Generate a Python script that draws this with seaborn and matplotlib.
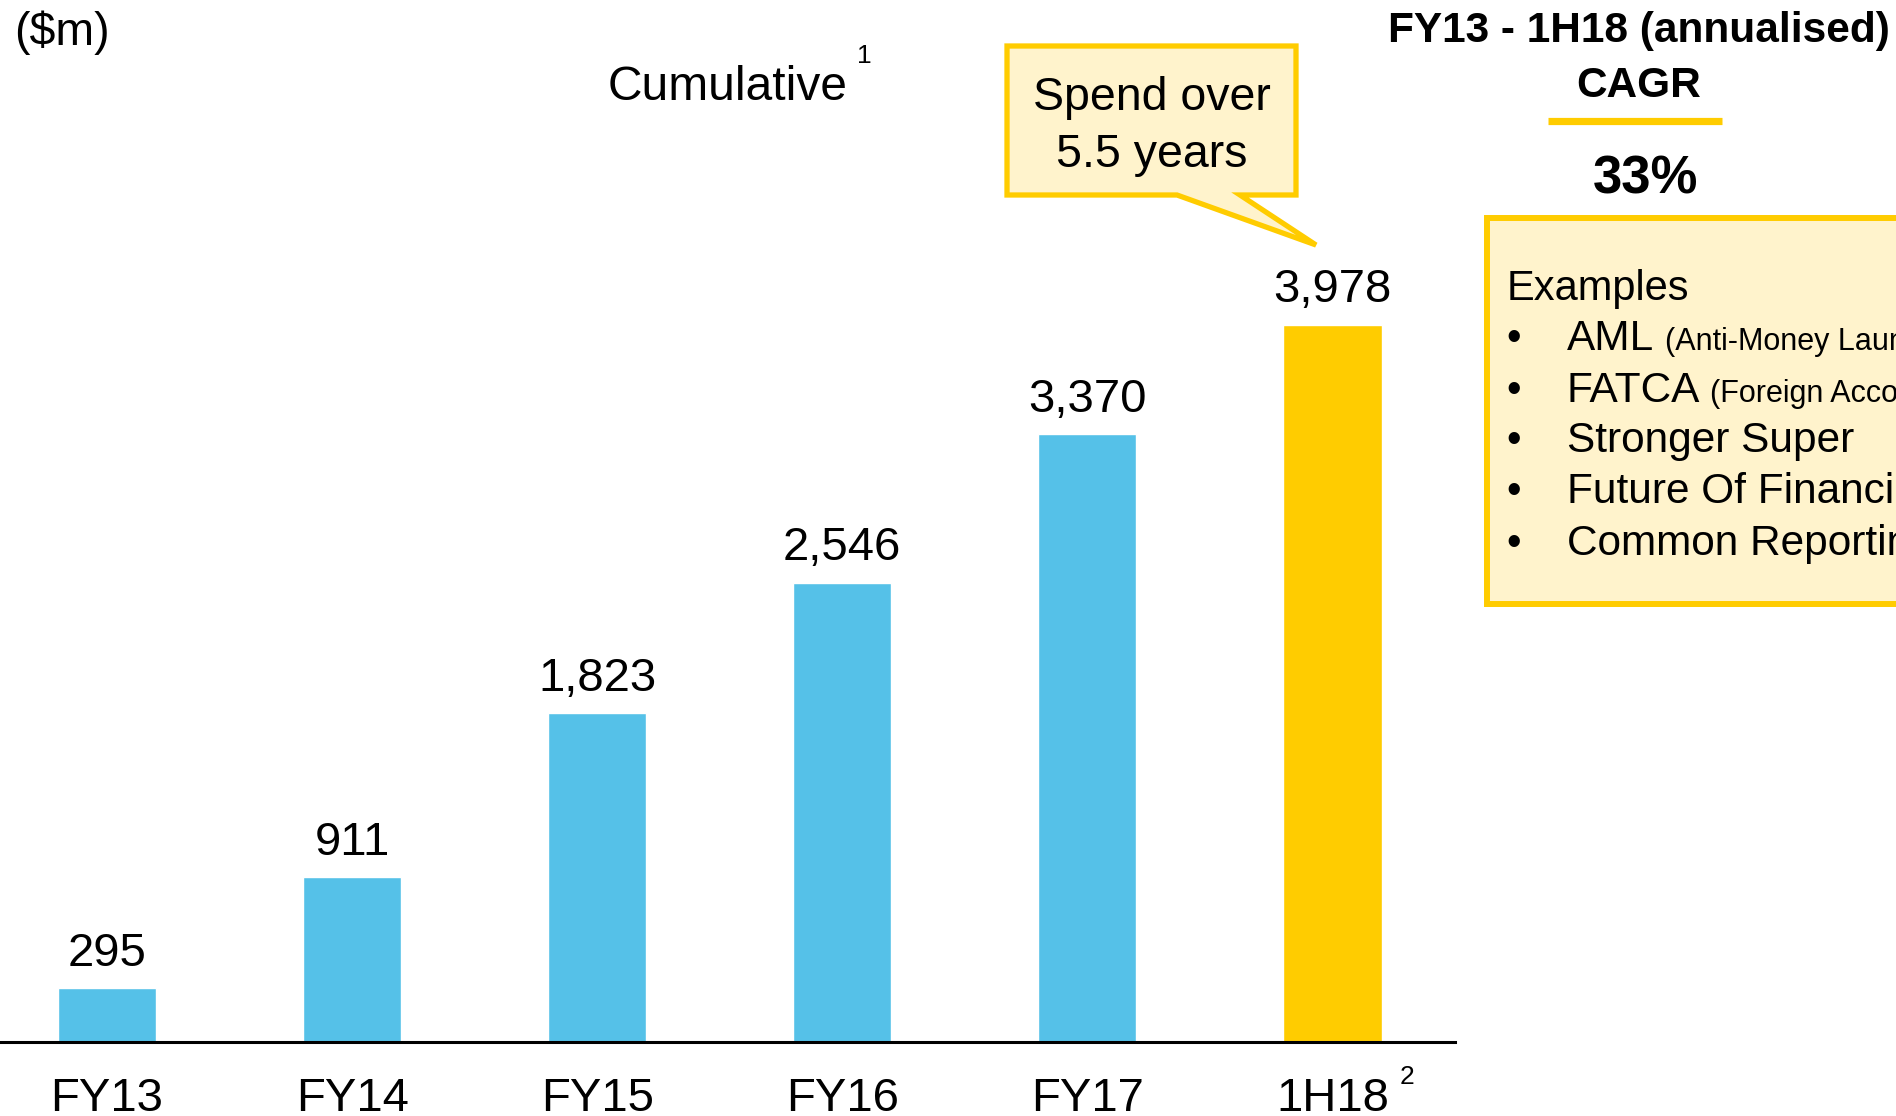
import matplotlib
matplotlib.use("Agg")
import matplotlib.pyplot as plt
from matplotlib.patches import Polygon, Rectangle
from matplotlib.lines import Line2D
import seaborn as sns
import pandas as pd

# Cumulative regulatory / compliance spend ($m)
periods = ["FY13", "FY14", "FY15", "FY16", "FY17", "1H18"]
cumulative_spend = [295, 911, 1823, 2546, 3370, 3978]
bar_colors = ["#55C1E8", "#55C1E8", "#55C1E8", "#55C1E8", "#55C1E8", "#FFCC00"]

cagr_title = ["FY13 - 1H18 (annualised)", "CAGR"]
cagr_value = "33%"
examples_heading = "Examples"
example_items = ["AML", "FATCA", "Stronger Super", "Future Of Financial Advice",
                 "Common Reporting Standard"]
example_notes = ["(Anti-Money Laundering)", "(Foreign Account Tax Compliance Act)",
                 "", "", ""]
callout_lines = ["Spend over", "5.5 years"]

YELLOW = "#FFCC00"
PALE = "#FFF3CC"

sns.set_theme(style="white")
plt.rcParams["font.family"] = ["Liberation Sans", "DejaVu Sans"]
plt.rcParams["text.color"] = "black"
plt.rcParams["xtick.color"] = "black"
plt.rcParams["xtick.labelcolor"] = "black"

W, H = 1896, 1116
fig = plt.figure(figsize=(W / 100, H / 100), dpi=100)


def fx(px):
    return px / W


def fy(py):
    return 1 - py / H


# Bar area
base_px = 1041.5
px_per_unit = (base_px - 324.5) / 3978
ax = fig.add_axes([0, fy(base_px), fx(1455), base_px / H])

df = pd.DataFrame({"period": periods, "spend": cumulative_spend})
sns.barplot(data=df, x="period", y="spend", hue="period", palette=bar_colors,
            order=periods, width=0.4, saturation=1, legend=False, ax=ax)

ax.set_xlim(-107 / 245.1, (1455 - 107) / 245.1)
ax.set_ylim(0, base_px / px_per_unit)
for side in ["top", "right", "left"]:
    ax.spines[side].set_visible(False)
ax.spines["bottom"].set_color("black")
ax.spines["bottom"].set_linewidth(2.2)
ax.set_xlabel("")
ax.set_ylabel("")
ax.set_yticks([])
ax.tick_params(axis="x", length=0, pad=(1111 - base_px) * 0.72, labelsize=34,
               colors="black")
for lbl in ax.get_xticklabels():
    lbl.set_va("baseline")
    lbl.set_color("black")

for i, v in enumerate(cumulative_spend):
    ax.annotate(f"{v:,}", xy=(i, v), xytext=(0, 16), textcoords="offset points",
                ha="center", va="baseline", fontsize=34, color="black")

# Footnote markers and headers
fig.text(fx(1400), fy(1084), "2", fontsize=19, ha="left", va="baseline")
fig.text(fx(14), fy(45), "($m)", fontsize=33.5, ha="left", va="baseline")
fig.text(fx(608), fy(100), "Cumulative", fontsize=34.5, ha="left", va="baseline")
fig.text(fx(857), fy(63), "1", fontsize=19, ha="left", va="baseline")

# Speech-bubble callout
bubble = [(1007, 46), (1296, 46), (1296, 195), (1240, 195), (1316, 245),
          (1177, 195), (1007, 195)]
fig.add_artist(Polygon([(fx(x), fy(y)) for x, y in bubble], closed=True,
                       transform=fig.transFigure, facecolor=PALE,
                       edgecolor=YELLOW, linewidth=3.8, joinstyle="miter"))
fig.text(fx(1152), fy(110), callout_lines[0], fontsize=33.5, ha="center",
         va="baseline")
fig.text(fx(1152), fy(167), callout_lines[1], fontsize=33.5, ha="center",
         va="baseline")

# CAGR panel
fig.text(fx(1639), fy(42), cagr_title[0], fontsize=30.5, fontweight="bold",
         ha="center", va="baseline")
fig.text(fx(1639), fy(97), cagr_title[1], fontsize=30.5, fontweight="bold",
         ha="center", va="baseline")
fig.add_artist(Line2D([fx(1548), fx(1722)], [fy(121), fy(121)],
                      transform=fig.transFigure, color=YELLOW, linewidth=5.2,
                      solid_capstyle="butt"))
fig.text(fx(1646), fy(194), cagr_value, fontsize=38, fontweight="bold",
         ha="center", va="baseline")

# Examples box (runs off the right edge)
fig.add_artist(Rectangle((fx(1487), fy(604)), fx(2000 - 1487), (604 - 218) / H,
                         transform=fig.transFigure, facecolor=PALE,
                         edgecolor=YELLOW, linewidth=4.3))
fig.text(fx(1507), fy(300), examples_heading, fontsize=30, ha="left",
         va="baseline")
baselines = [350, 402, 452, 503, 555]
note_x = [1665, 1710, None, None, None]
for item, note, yb, nx in zip(example_items, example_notes, baselines, note_x):
    fig.text(fx(1506), fy(yb), "\u2022", fontsize=30, ha="left", va="baseline")
    fig.text(fx(1567), fy(yb), item, fontsize=30.5, ha="left", va="baseline")
    if note:
        fig.text(fx(nx), fy(yb), note, fontsize=22, ha="left", va="baseline")

fig.savefig("out.png", dpi=100, facecolor="white")
